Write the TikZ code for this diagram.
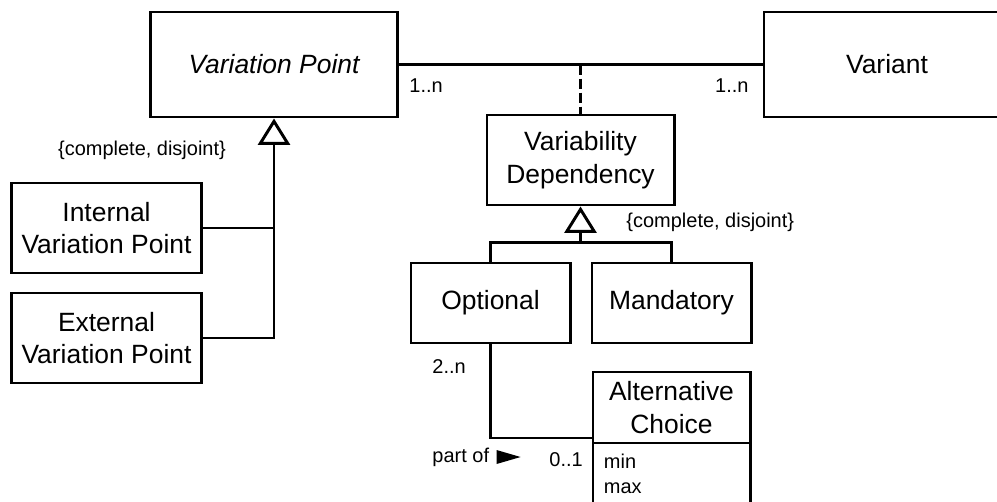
\documentclass[tikz,border=0pt]{standalone}
\usepackage{fontspec}
\setmainfont{Liberation Sans}
\usetikzlibrary{arrows.meta,positioning,calc}

\begin{document}
\begin{tikzpicture}[
    x=0.025cm, y=-0.025cm,
    line width=2.1pt,
    cls/.style={draw, rectangle, align=center, inner sep=0pt, font=\fontsize{18.8pt}{23pt}\selectfont},
    lbl/.style={inner sep=0pt, font=\fontsize{14.2pt}{17.8pt}\selectfont},
    gen/.style={-{Triangle[open, length=0.66cm, width=0.8cm]}}
]
\useasboundingbox (0,0) rectangle (997,501);

% classes
\node[cls, minimum width=6.15cm, minimum height=2.625cm] (vp) at (274,64.5) {\itshape Variation Point};
\node[cls, minimum width=6.15cm, minimum height=2.625cm] (variant) at (887,64.5) {Variant};
\node[cls, minimum width=4.675cm, minimum height=2.25cm] (vd) at (580.5,160) {Variability\\Dependency};
\node[cls, minimum width=4.725cm, minimum height=2.25cm] (ivp) at (106.5,228) {Internal\\Variation Point};
\node[cls, minimum width=4.725cm, minimum height=2.25cm] (evp) at (106.5,338) {External\\Variation Point};
\node[cls, minimum width=3.975cm, minimum height=2cm] (opt) at (490.5,303) {Optional};
\node[cls, minimum width=3.975cm, minimum height=2cm] (mand) at (671.5,303) {Mandatory};
\node[cls, outer ysep=0pt, minimum width=3.925cm, minimum height=1.775cm] (alt) at (671.5,407.5) {Alternative\\Choice};
\node[cls, outer ysep=0pt, anchor=north, align=left, text width=3.375cm, inner xsep=0.275cm, minimum height=1.55cm,
      font=\fontsize{14.2pt}{17.8pt}\selectfont] (altattr) at (alt.south) {min\\max};

% associations
\draw (vp) -- (variant);
\draw[dash pattern=on 0.25cm off 0.1cm] (vd.north |- vp.east) -- (vd.north);
\draw (opt.south) |- ([yshift=0.125cm]alt.south west);

% generalizations
\draw[gen] (evp.east) -| (vp.south);
\draw (ivp.east) -- (ivp.east -| vp.south);
\coordinate (vdfork) at ($(vd.south)+(0,36)$);
\draw (opt.north) |- (vdfork) -| (mand.north);
\draw[gen] (vdfork) -- (vd.south);

% labels
\node[lbl, anchor=base west] (vpmult) at (408,92) {1..n};
\node[lbl, anchor=base east] (varmult) at (750,92) {1..n};
\node[lbl, anchor=base] (vpgen) at (142,155) {\{complete, disjoint\}};
\node[lbl, anchor=base west] (vdgen) at (625,227) {\{complete, disjoint\}};
\node[lbl, anchor=base west] (optmult) at (431,373) {2..n};
\node[lbl, anchor=base west] (partof) at (431,462) {part of};
\node[lbl, anchor=base west] (altmult) at (548,466) {0..1};
\fill ($(partof.base east)+(6,-12)$) -- ++(24,7) -- ++(-24,7) -- cycle;
\end{tikzpicture}
\end{document}
